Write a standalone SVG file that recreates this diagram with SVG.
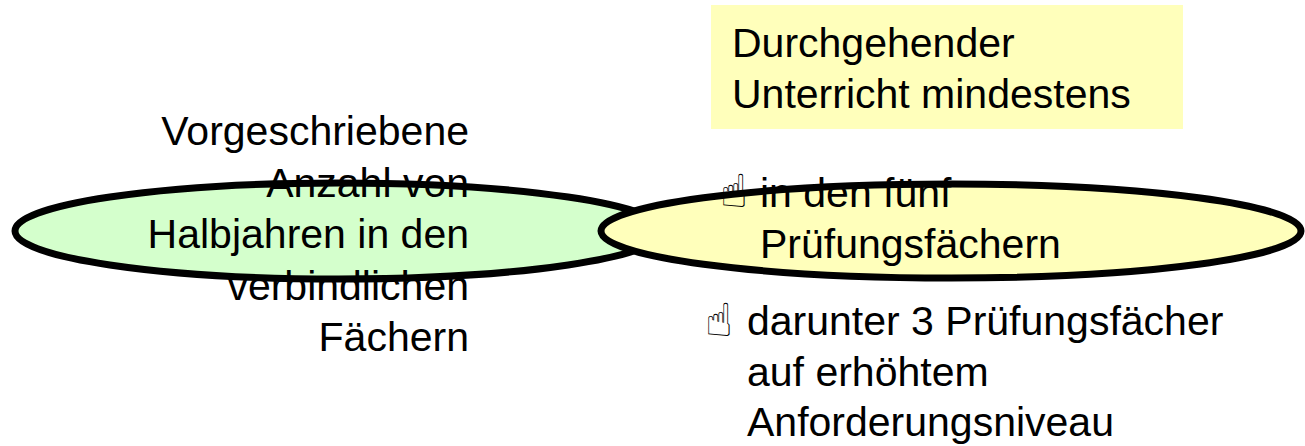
<svg xmlns="http://www.w3.org/2000/svg" width="1305" height="446" viewBox="0 0 1305 446">
<style>
.t{font-family:"Liberation Sans",Arial,sans-serif;font-size:41px;fill:#000}
.h{font-family:"DejaVu Sans",sans-serif;font-size:46px;fill:#000}
.ol{fill:none;stroke:#000;stroke-width:7}
</style>
<rect width="1305" height="446" fill="#fff"/>
<g id="box-durchgehend">
<rect x="711" y="5" width="472" height="124" fill="#ffffbb"/>
<text class="t" x="732" y="57">Durchgehender</text>
<text class="t" x="732" y="108">Unterricht mindestens</text>
</g>
<g id="node-halbjahre">
<ellipse cx="339" cy="231" rx="324" ry="48" fill="#d4ffcc"/>
<g class="t" text-anchor="end">
<text x="469" y="145">Vorgeschriebene</text>
<text x="469" y="196.5">Anzahl von</text>
<text x="469" y="248">Halbjahren in den</text>
<text x="469" y="299.5">verbindlichen</text>
<text x="469" y="351">Fächern</text>
</g>
<ellipse class="ol" cx="339" cy="231" rx="324" ry="48"/>
</g>
<g id="node-pruefungsfaecher">
<ellipse cx="951" cy="231" rx="350" ry="47" fill="#ffffbb"/>
<text class="h" x="720" y="207">☝</text>
<text class="t" x="760" y="207">in den fünf</text>
<text class="t" x="760" y="258">Prüfungsfächern</text>
<ellipse class="ol" cx="951" cy="231" rx="350" ry="47"/>
</g>
<g id="text-erhoeht">
<text class="h" x="705" y="336">☝</text>
<text class="t" x="747" y="335">darunter 3 Prüfungsfächer</text>
<text class="t" x="747" y="386">auf erhöhtem</text>
<text class="t" x="747" y="436">Anforderungsniveau</text>
</g>
<g id="connectors"></g>
</svg>
